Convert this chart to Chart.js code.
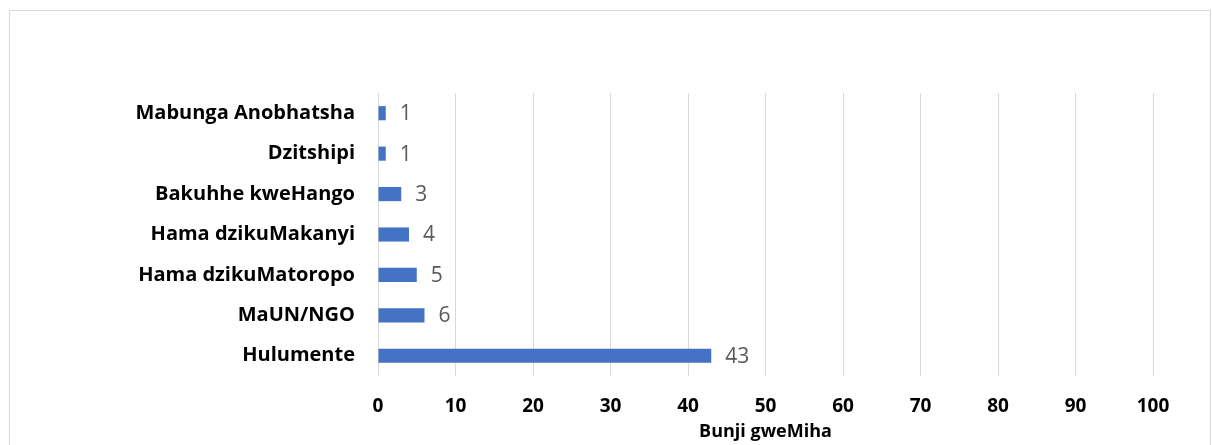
<!DOCTYPE html>
<html>
<head>
<meta charset="utf-8">
<title>Bunji gweMiha</title>
<script src="https://cdn.jsdelivr.net/npm/chart.js@4.4.1/dist/chart.umd.min.js"></script>
<style>
  html, body { margin: 0; padding: 0; background: #fff; }
  canvas { display: block; }
</style>
</head>
<body>
<canvas id="myChart" width="1212" height="445"></canvas>
<script>
// categories and values, top row first
const categories = [
  'Mabunga Anobhatsha',
  'Dzitshipi',
  'Bakuhhe kweHango',
  'Hama dzikuMakanyi',
  'Hama dzikuMatoropo',
  'MaUN/NGO',
  'Hulumente'
];
const values = [1, 1, 3, 4, 5, 6, 43];
const xTicks = [0, 10, 20, 30, 40, 50, 60, 70, 80, 90, 100];
const axisTitle = 'Bunji gweMiha';

const fontFamily = '"Open Sans", Lato, sans-serif';

// thin grey frame round the whole chart
const frame = {
  id: 'frame',
  beforeDraw(chart) {
    const { ctx } = chart;
    ctx.save();
    ctx.strokeStyle = '#d9d9d9';
    ctx.lineWidth = 1;
    ctx.strokeRect(9.5, 10.5, 1201, 460);
    ctx.restore();
  }
};

// value text just past the end of each bar
const valueLabels = {
  id: 'valueLabels',
  afterDatasetsDraw(chart) {
    const { ctx } = chart;
    const meta = chart.getDatasetMeta(0);
    ctx.save();
    ctx.font = `21px ${fontFamily}`;
    ctx.fillStyle = '#595959';
    ctx.textAlign = 'left';
    ctx.textBaseline = 'middle';
    meta.data.forEach((bar, i) => {
      ctx.fillText(values[i], bar.x + 14, bar.y + 1);
    });
    ctx.restore();
  }
};

const config = {
  type: 'bar',
  data: {
    labels: categories,
    datasets: [{
      data: values,
      backgroundColor: '#4472c4',
      borderWidth: 0,
      barPercentage: 1,
      categoryPercentage: 0.35
    }]
  },
  options: {
    indexAxis: 'y',
    responsive: false,
    animation: false,
    layout: { padding: { top: 93, right: 59, left: 0, bottom: 0 } },
    plugins: {
      legend: { display: false },
      tooltip: { enabled: false }
    },
    scales: {
      x: {
        min: 0,
        max: 100,
        afterBuildTicks(scale) {
          scale.ticks = xTicks.map(v => ({ value: v }));
        },
        afterFit(scale) { scale.height = 69; },
        grid: { color: '#d9d9d9', lineWidth: 1, drawTicks: false },
        border: { display: false },
        ticks: {
          padding: 19,
          color: '#000',
          font: { family: fontFamily, size: 19, weight: 'bold' }
        },
        title: {
          display: true,
          text: axisTitle,
          color: '#000',
          padding: { top: 0, bottom: 2 },
          font: { family: fontFamily, size: 18, weight: 'bold' }
        }
      },
      y: {
        afterFit(scale) { scale.width = 378; },
        grid: { display: false, drawTicks: false },
        border: { display: false },
        ticks: {
          padding: 23,
          color: '#000',
          font: { family: fontFamily, size: 20, weight: 'bold' }
        }
      }
    }
  },
  plugins: [frame, valueLabels]
};

const myChart = new Chart(document.getElementById('myChart'), config);
</script>
</body>
</html>
